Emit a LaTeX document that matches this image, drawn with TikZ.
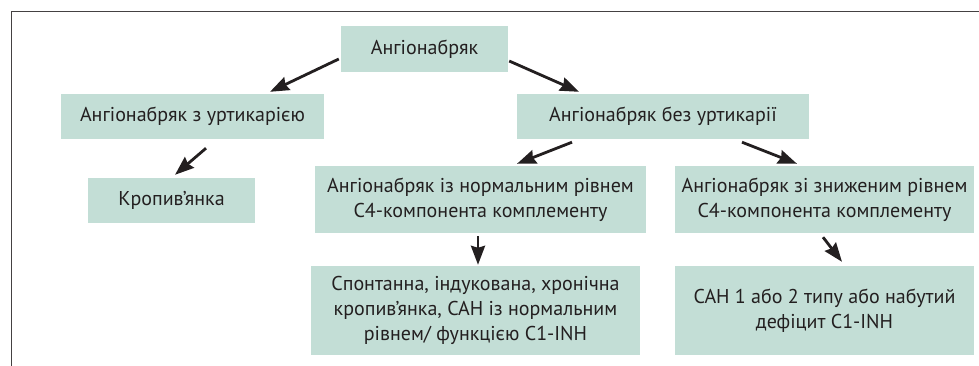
\documentclass[tikz,border=0pt]{standalone}
\usepackage{fontspec}
\setmainfont{PT Sans}
\usetikzlibrary{arrows.meta}
\definecolor{boxgreen}{HTML}{C3DED6}
\definecolor{inkgray}{HTML}{231F20}
\begin{document}
\begin{tikzpicture}[
        x=1pt,
        y=-1pt,
        font=\fontsize{20}{25}\selectfont,
        text=inkgray
    ]
    \tikzset{
        boxn/.style = {rectangle, fill=boxgreen, inner sep=0pt, align=center},
        edgea/.style = {-{Stealth[length=19pt,width=14pt,inset=2pt]}, line width=2.8pt, inkgray},
        framel/.style = {line width=0.8pt, inkgray!85},
    }
    \useasboundingbox (0,0) rectangle (979,366);
    \draw[framel] (11,366) -- (11,11) -- (979,11);
    %
    \node[boxn, minimum width=167pt, minimum height=46pt] at (424.5,49) (root) {Ангіонабряк};
    \node[boxn, minimum width=263pt, minimum height=45pt] at (192.5,116.5) (urt) {Ангіонабряк з уртикарією};
    \node[boxn, minimum width=292pt, minimum height=45pt] at (663,116.5) (nourt) {Ангіонабряк без уртикарії};
    \node[boxn, minimum width=167pt, minimum height=45pt] at (171.5,200.5) (krop) {Кропив’янка};
    \node[boxn, minimum width=331pt, minimum height=67pt] at (480.5,199.5) (norm) {Ангіонабряк із нормальним рівнем\\С4-компонента комплементу};
    \node[boxn, minimum width=299pt, minimum height=67pt] at (824.5,199.5) (low) {Ангіонабряк зі зниженим рівнем\\С4-компонента комплементу};
    \node[boxn, minimum width=329pt, minimum height=89pt] at (475.5,310.5) (normres) {Спонтанна, індукована, хронічна\\кропив’янка, САН із нормальним\\рівнем/ функцією С1-INH};
    \node[boxn, minimum width=299pt, minimum height=89pt] at (824.5,310.5) (lowres) {САН 1 або 2 типу або набутий\\дефіцит С1-INH};
    %
    \draw[edgea] ([xshift=-2pt,yshift=-10pt]root.west) -- ([xshift=77.5pt,yshift=2pt]urt.north);
    \draw[edgea] ([xshift=1pt,yshift=-12pt]root.east) -- ([xshift=-84pt,yshift=2pt]nourt.north);
    %
    \draw[edgea] ([xshift=13.5pt,yshift=-9pt]urt.south) -- ([xshift=3.5pt,yshift=3pt]krop.north);
    \draw[edgea] ([xshift=-91pt,yshift=-3pt]nourt.south) -- ([xshift=36.5pt,yshift=2pt]norm.north);
    \draw[edgea] ([xshift=79pt,yshift=-3pt]nourt.south) -- ([xshift=-27.5pt,yshift=2pt]low.north);
    %
    \draw[edgea] ([xshift=-2.5pt,yshift=-3pt]norm.south) -- ([xshift=2.5pt,yshift=1pt]normres.north);
    \draw[edgea] ([xshift=-1.5pt,yshift=-4pt]low.south) -- ([xshift=17.5pt,yshift=4pt]lowres.north);
\end{tikzpicture}
\end{document}
